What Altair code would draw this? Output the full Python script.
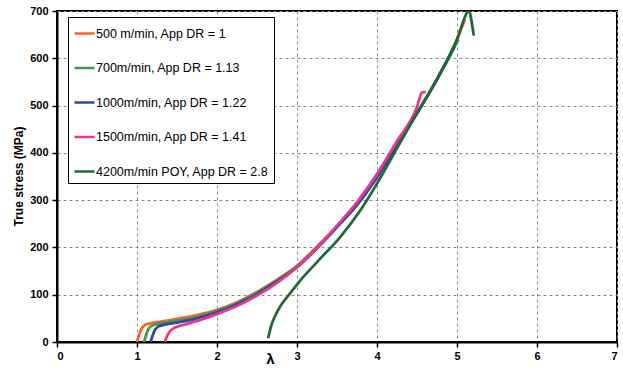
import altair as alt
import pandas as pd

series_names = [
    "500 m/min, App DR = 1",
    "700m/min, App DR = 1.13",
    "1000m/min, App DR = 1.22",
    "1500m/min, App DR = 1.41",
    "4200m/min POY, App DR = 2.8",
]
series_colors = ["#f26a2b", "#3d9b4c", "#3447a0", "#e5388f", "#1f6a37"]

lam_500 = [1.0, 1.03, 1.06, 1.1, 1.15, 1.3, 1.5, 1.75, 2.0, 2.25, 2.5, 2.75, 3.0, 3.25, 3.5, 3.75, 4.0, 4.25, 4.5, 4.75, 5.0, 5.1]
sig_500 = [0, 17, 29, 36, 39, 43, 49, 57, 68, 84, 106, 132, 161, 202, 245, 290, 350, 418, 484, 556, 640, 682]

lam_700 = [1.09, 1.12, 1.15, 1.19, 1.25, 1.4, 1.6, 1.8, 2.0, 2.25, 2.5, 2.75, 3.0, 3.25, 3.5, 3.75, 4.0, 4.25, 4.5, 4.75, 5.02]
sig_700 = [0, 18, 29, 35, 38, 42, 48, 55, 66, 82, 104, 130, 160, 200, 244, 290, 349, 418, 484, 556, 640]

lam_1000 = [1.17, 1.2, 1.23, 1.27, 1.33, 1.5, 1.75, 2.0, 2.25, 2.5, 2.75, 3.0, 3.25, 3.5, 3.75, 4.0, 4.25, 4.5, 4.75, 4.97]
sig_1000 = [0, 16, 27, 33, 36, 41, 50, 63, 80, 101, 128, 158, 198, 243, 290, 348, 417, 483, 555, 625]

lam_1500 = [1.35, 1.37, 1.4, 1.44, 1.5, 1.6, 1.8, 2.0, 2.25, 2.5, 2.75, 3.0, 3.25, 3.5, 3.75, 4.0, 4.25, 4.5, 4.56, 4.61]
sig_1500 = [0, 10, 20, 27, 32, 37, 47, 59, 76, 98, 125, 158, 199, 246, 296, 355, 425, 497, 527, 529]

lam_4200 = [2.64, 2.67, 2.72, 2.8, 2.9, 3.04, 3.25, 3.54, 3.79, 4.0, 4.2, 4.5, 4.75, 5.0, 5.12, 5.15, 5.18, 5.21]
sig_4200 = [8, 30, 53, 78, 100, 130, 169, 222, 278, 335, 395, 484, 556, 640, 695, 702, 680, 648]

x_ticks = [0, 1, 2, 3, 4, 5, 6, 7]
y_ticks = [0, 100, 200, 300, 400, 500, 600, 700]

all_lams = [lam_500, lam_700, lam_1000, lam_1500, lam_4200]
all_sigs = [sig_500, sig_700, sig_1000, sig_1500, sig_4200]

rows = []
for name, lams, sigs in zip(series_names, all_lams, all_sigs):
    for i, (l, s) in enumerate(zip(lams, sigs)):
        rows.append({"series": name, "lambda": l, "stress": s, "idx": i})
df = pd.DataFrame(rows)

font = "Liberation Sans"

chart = (
    alt.Chart(df)
    .mark_line(strokeWidth=2.8, clip=True, interpolate="monotone")
    .encode(
        x=alt.X(
            "lambda:Q",
            scale=alt.Scale(domain=[0, 7], nice=False),
            axis=alt.Axis(
                values=x_ticks,
                title="λ",
                titleFontSize=15,
                titleColor="black",
                titleX=213,
                titleY=16,
                titleAlign="center",
                titleBaseline="middle",
                labelPadding=3,
                format="d",
            ),
        ),
        y=alt.Y(
            "stress:Q",
            scale=alt.Scale(domain=[0, 700], nice=False),
            axis=alt.Axis(
                values=y_ticks,
                title="True stress (MPa)",
                titleFontSize=12,
                titleColor="black",
                titleX=-39,
                titleY=165,
                titleAngle=-90,
                titleAlign="center",
                titleBaseline="middle",
                labelPadding=4,
                format="d",
            ),
        ),
        color=alt.Color(
            "series:N",
            scale=alt.Scale(domain=series_names, range=series_colors),
            sort=series_names,
            legend=alt.Legend(
                title=None,
                orient="none",
                legendX=11,
                legendY=6,
                symbolType="stroke",
                symbolSize=400,
                symbolStrokeWidth=2.5,
                labelFont=font,
                labelFontSize=12.5,
                labelColor="black",
                labelOffset=0,
                labelLimit=300,
                rowPadding=16.5,
                padding=5,
                strokeColor="black",
                fillColor="white",
            ),
        ),
        order=alt.Order("idx:Q"),
    )
    .properties(
        width=560,
        height=331,
        autosize=alt.AutoSizeParams(type="none"),
        padding={"left": 57, "top": 11, "right": 6, "bottom": 26},
        background="white",
    )
    .configure_axis(
        domainColor="black",
        domainWidth=2,
        tickColor="black",
        tickWidth=1.5,
        tickSize=5,
        labelFont=font,
        labelFontWeight="bold",
        labelFontSize=11,
        labelColor="black",
        gridColor="#8a8a8a",
        gridDash=[3, 3],
        gridWidth=1,
        titleFont=font,
        titleFontWeight="bold",
        titleColor="black",
    )
    .configure_view(stroke="black", strokeWidth=2)
)

chart.save("out.html", embed_options={"renderer": "svg", "actions": False})
